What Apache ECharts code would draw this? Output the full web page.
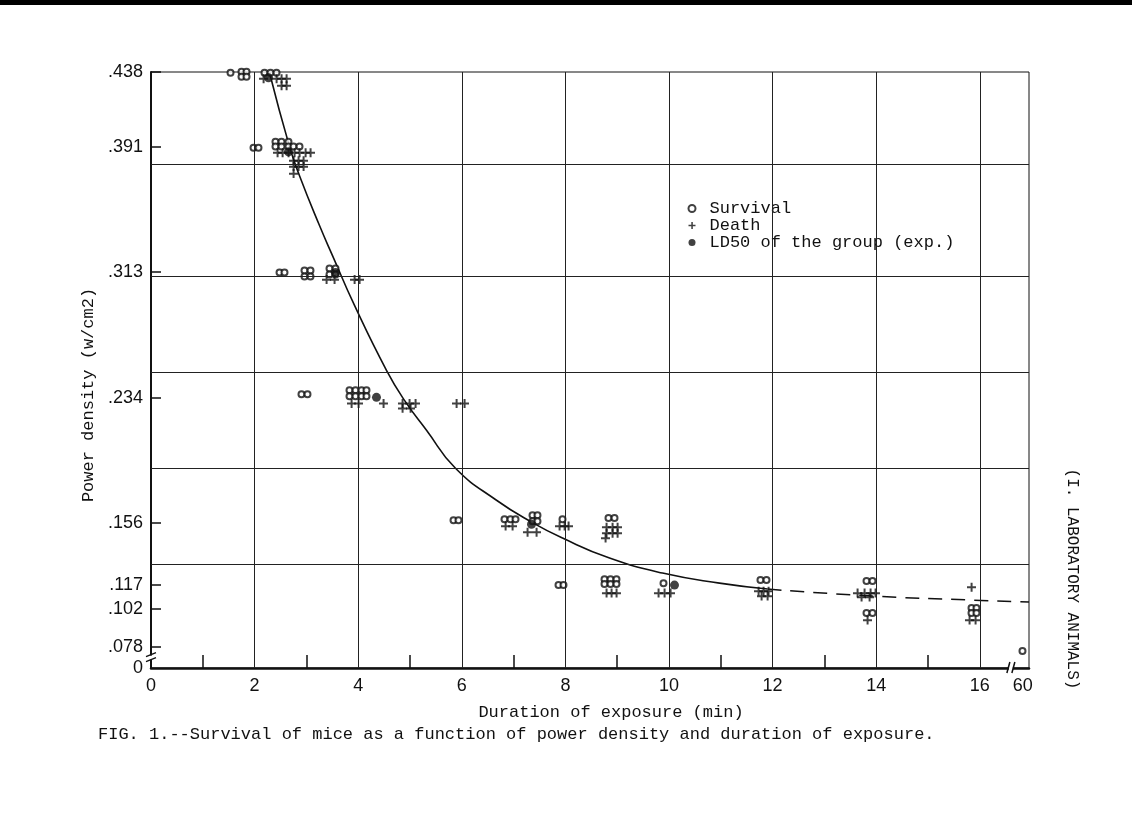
<!DOCTYPE html>
<html>
<head>
<meta charset="utf-8">
<script src="https://cdn.jsdelivr.net/npm/echarts@6/dist/echarts.min.js"></script>
<style>
html,body{margin:0;padding:0;background:#fff;}
#chart{width:1132px;height:820px;}
</style>
</head>
<body>
<div id="chart"></div>
<script>
// ---- data ----
// x: duration (min); the "60" point sits after the axis break at position 16.83
const xTickLabelValues = [0, 2, 4, 6, 8, 10, 12, 14, 16, 16.83];
const xTickLabels = ['0', '2', '4', '6', '8', '10', '12', '14', '16', '60'];
const xMinorTicks = [1, 3, 5, 7, 9, 11, 13, 15];
const xGridValues = [2, 4, 6, 8, 10, 12, 14, 16];

// y: power density (W/cm2); "0" drawn at the break position 0.065
const yTickValues = [0.078, 0.102, 0.117, 0.156, 0.234, 0.313, 0.391, 0.438];
const yLabelValues = [0.065, 0.078, 0.102, 0.117, 0.156, 0.234, 0.313, 0.391, 0.438];
const yLabels = ['0', '.078', '.102', '.117', '.156', '.234', '.313', '.391', '.438'];
const yGridValues = [0.125, 0.1875, 0.25, 0.3125, 0.375];

const survival = [
  [1.535,0.4375],[1.747,0.4381],[1.844,0.4381],[1.747,0.4350],[1.844,0.4350],[2.191,0.4375],[2.307,0.4375],[2.423,0.4375],
  [1.979,0.3906],[2.075,0.3906],[2.403,0.3944],[2.519,0.3944],[2.654,0.3944],[2.403,0.3913],[2.519,0.3913],[2.654,0.3913],[2.751,0.3913],[2.867,0.3913],
  [2.481,0.3125],[2.577,0.3125],[2.963,0.3138],[3.079,0.3138],[2.963,0.3100],[3.079,0.3100],[3.446,0.3150],[3.562,0.3150],[3.446,0.3113],[3.562,0.3113],
  [2.905,0.2363],[3.021,0.2363],[3.832,0.2388],[3.948,0.2388],[4.064,0.2388],[4.160,0.2388],[3.832,0.2350],[3.948,0.2350],[4.064,0.2350],[4.160,0.2350],
  [5.840,0.1575],[5.936,0.1575],[6.824,0.1581],[6.940,0.1581],[7.037,0.1581],[7.365,0.1606],[7.461,0.1606],[7.365,0.1569],[7.461,0.1569],[7.944,0.1581],[8.832,0.1588],[8.948,0.1588],
  [7.867,0.1169],[7.963,0.1169],[8.755,0.1206],[8.871,0.1206],[8.986,0.1206],[8.755,0.1175],[8.871,0.1175],[8.986,0.1175],[9.894,0.1181],
  [11.766,0.1200],[11.882,0.1200],
  [13.813,0.1194],[13.929,0.1194],[13.813,0.0994],[13.929,0.0994],
  [15.840,0.1025],[15.936,0.1025],[15.840,0.0994],[15.936,0.0994],
  [16.824,0.0756]
];

const death = [
  [2.172,0.4338],[2.423,0.4338],[2.519,0.4338],[2.616,0.4338],[2.519,0.4294],[2.616,0.4294],
  [2.442,0.3875],[2.539,0.3875],[2.654,0.3875],[2.770,0.3875],[2.867,0.3875],[2.983,0.3875],[3.079,0.3875],
  [2.751,0.3825],[2.847,0.3825],[2.944,0.3825],[2.751,0.3788],[2.847,0.3788],[2.944,0.3788],[2.751,0.3744],
  [3.388,0.3081],[3.542,0.3081],[3.929,0.3081],[4.025,0.3081],
  [3.871,0.2306],[4.006,0.2306],[4.488,0.2306],[4.855,0.2306],[4.990,0.2306],[5.106,0.2306],[4.855,0.2275],[5.010,0.2275],[5.898,0.2306],[6.052,0.2306],
  [6.844,0.1538],[6.979,0.1538],[7.268,0.1500],[7.442,0.1500],[7.886,0.1538],[7.983,0.1538],[8.060,0.1538],
  [8.793,0.1531],[8.909,0.1531],[9.006,0.1531],[8.793,0.1494],[8.909,0.1494],[9.006,0.1494],[8.774,0.1463],
  [8.793,0.1119],[8.890,0.1119],[8.986,0.1119],[9.797,0.1119],[9.913,0.1119],[10.029,0.1119],
  [11.728,0.1131],[11.824,0.1131],[11.921,0.1131],[11.786,0.1100],[11.902,0.1100],
  [13.639,0.1119],[13.774,0.1119],[13.890,0.1119],[13.986,0.1119],[13.716,0.1094],[13.871,0.1094],[13.832,0.0950],
  [15.840,0.1156],[15.801,0.0950],[15.917,0.0950]
];

const ld50 = [[2.268,0.4344],[2.654,0.3881],[3.562,0.3125],[4.353,0.2344],[7.346,0.1550],[10.106,0.1169]];

const curveSolid = [
  [2.288,0.4375],[2.674,0.3913],[2.867,0.3731],[3.253,0.3419],[3.504,0.3231],[3.929,0.2919],[4.546,0.2513],
  [4.894,0.2325],[5.319,0.2138],[5.878,0.1900],[6.670,0.1700],[7.346,0.1563],[7.944,0.1463],[8.852,0.1338],
  [9.875,0.1244],[10.975,0.1181],[11.902,0.1144]
];
const curveDashed = [[11.902,0.1144],[13.929,0.1100],[15.859,0.1075],[16.95,0.1063]];

// ---- styling ----
const INK = '#111';
const MONO = '"Liberation Mono", "DejaVu Sans Mono", monospace';
const SANS = '"Liberation Sans", "DejaVu Sans", sans-serif';
const CROSS = 'path://M0,4 L10,4 L10,6.2 L0,6.2 Z M4,0 L6.2,0 L6.2,10 L4,10 Z';

const chart = echarts.init(document.getElementById('chart'), null, {renderer: 'canvas'});

const gridLines = xGridValues.map(v => ({xAxis: v})).concat(yGridValues.map(v => ({yAxis: v})));

const option = {
  animation: false,
  backgroundColor: '#fff',
  title: {
    text: 'FIG. 1.--Survival of mice as a function of power density and duration of exposure.',
    left: 93, top: 721,
    textStyle: {fontFamily: MONO, fontSize: 17, fontWeight: 'normal', color: INK}
  },
  legend: {
    orient: 'vertical', left: 682.5, top: 195,
    itemWidth: 7, itemHeight: 7, itemGap: 0,
    data: [
      {name: 'Survival', icon: 'emptyCircle'},
      {name: 'Death', icon: CROSS},
      {name: 'LD50 of the group (exp.)', icon: 'circle'}
    ],
    textStyle: {fontFamily: MONO, fontSize: 17, color: INK, lineHeight: 15.5, padding: [0, 0, 0, 9]}
  },
  grid: {
    left: 151, right: 103, top: 72, bottom: 152,
    show: true, borderColor: INK, borderWidth: 1, backgroundColor: 'transparent'
  },
  xAxis: {
    type: 'value', min: 0, max: 16.95,
    name: 'Duration of exposure (min)', nameLocation: 'middle', nameGap: 36,
    nameTextStyle: {fontFamily: MONO, fontSize: 17, color: INK, padding: [0, 0, 0, 42]},
    axisLine: {show: true, lineStyle: {color: INK, width: 2.5}},
    axisTick: {show: true, inside: true, length: 13, customValues: xMinorTicks, lineStyle: {color: INK, width: 1.5}},
    axisLabel: {
      customValues: xTickLabelValues, margin: 9,
      fontFamily: SANS, fontSize: 18, color: INK,
      formatter: function (v) {
        const i = xTickLabelValues.findIndex(t => Math.abs(t - v) < 1e-6);
        return i >= 0 ? xTickLabels[i] : '';
      }
    },
    splitLine: {show: false}
  },
  yAxis: {
    type: 'value', min: 0.065, max: 0.438,
    name: 'Power density (w/cm2)', nameLocation: 'middle', nameGap: 38,
    nameTextStyle: {fontFamily: MONO, fontSize: 17, color: INK, padding: [0, 50, 0, 0]},
    axisLine: {show: true, lineStyle: {color: INK, width: 2}},
    axisTick: {show: true, inside: true, length: 10, customValues: yTickValues, lineStyle: {color: INK, width: 1.5}},
    axisLabel: {
      customValues: yLabelValues, margin: 8,
      fontFamily: SANS, fontSize: 18, color: INK,
      formatter: function (v) {
        const i = yLabelValues.findIndex(t => Math.abs(t - v) < 1e-6);
        return i >= 0 ? yLabels[i] : '';
      }
    },
    splitLine: {show: false}
  },
  series: [
    {
      name: 'LD50 curve', type: 'line', data: curveSolid, smooth: true,
      showSymbol: false, symbol: 'none', z: 2, silent: true,
      lineStyle: {color: INK, width: 1.6},
      markLine: {
        silent: true, symbol: 'none', label: {show: false},
        lineStyle: {color: '#222', width: 1, type: 'solid'},
        data: gridLines
      }
    },
    {
      name: 'LD50 curve (extrapolated)', type: 'line', data: curveDashed, smooth: true,
      showSymbol: false, symbol: 'none', z: 2, silent: true,
      lineStyle: {color: INK, width: 1.5, type: [14, 9]}
    },
    {
      name: 'Survival', type: 'scatter', data: survival, clip: false, z: 4,
      symbol: 'emptyCircle', symbolSize: 6,
      itemStyle: {color: INK, borderColor: INK, borderWidth: 1.3}
    },
    {
      name: 'Death', type: 'scatter', data: death, clip: false, z: 4,
      symbol: CROSS, symbolSize: 9,
      itemStyle: {color: INK}
    },
    {
      name: 'LD50 of the group (exp.)', type: 'scatter', data: ld50, clip: false, z: 5,
      symbol: 'circle', symbolSize: 9,
      itemStyle: {color: INK}
    }
  ]
};

chart.setOption(option);

// axis-break marks placed through the chart's own scales
const yBreakPt = chart.convertToPixel({xAxisIndex: 0, yAxisIndex: 0}, [0, 0.0715]);
const xBreakPt = chart.convertToPixel({xAxisIndex: 0, yAxisIndex: 0}, [16.6, 0.065]);

chart.setOption({
  graphic: [
    {type: 'rect', shape: {x: 0, y: 0, width: 1132, height: 5}, style: {fill: '#000'}, silent: true},
    {type: 'rect', shape: {x: yBreakPt[0] - 3, y: yBreakPt[1] - 2, width: 6, height: 4}, style: {fill: '#fff'}, z: 100, silent: true},
    {type: 'polyline', shape: {points: [[yBreakPt[0] - 5, yBreakPt[1] - 1], [yBreakPt[0] + 5, yBreakPt[1] - 5]]}, style: {stroke: INK, lineWidth: 1.5}, z: 101, silent: true},
    {type: 'polyline', shape: {points: [[yBreakPt[0] - 5, yBreakPt[1] + 4], [yBreakPt[0] + 5, yBreakPt[1]]]}, style: {stroke: INK, lineWidth: 1.5}, z: 101, silent: true},
    {type: 'rect', shape: {x: xBreakPt[0] - 2, y: xBreakPt[1] - 3, width: 4, height: 6}, style: {fill: '#fff'}, z: 100, silent: true},
    {type: 'polyline', shape: {points: [[xBreakPt[0] - 4, xBreakPt[1] + 5], [xBreakPt[0] - 1, xBreakPt[1] - 6]]}, style: {stroke: INK, lineWidth: 1.5}, z: 101, silent: true},
    {type: 'polyline', shape: {points: [[xBreakPt[0] + 1, xBreakPt[1] + 5], [xBreakPt[0] + 4, xBreakPt[1] - 6]]}, style: {stroke: INK, lineWidth: 1.5}, z: 101, silent: true},
    {
      type: 'text', x: 1072, y: 579, rotation: -Math.PI / 2, silent: true,
      style: {text: '(I. LABORATORY ANIMALS)', align: 'center', verticalAlign: 'middle', font: '16px "Liberation Mono", monospace', fill: INK}
    }
  ]
});
</script>
</body>
</html>
